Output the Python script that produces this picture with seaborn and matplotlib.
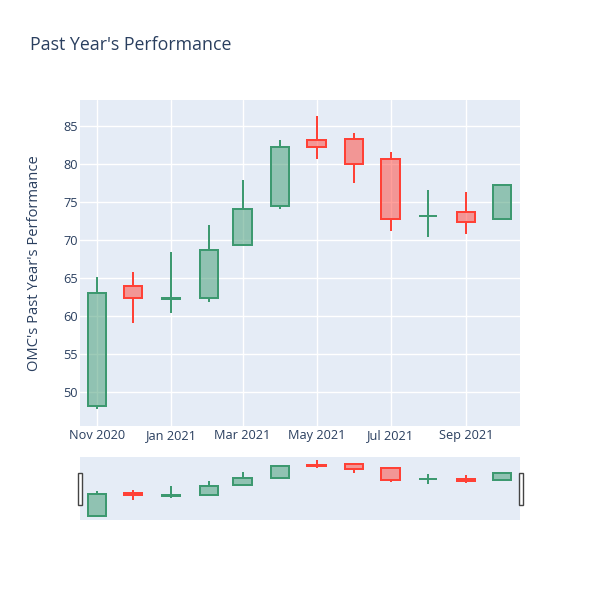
import matplotlib
matplotlib.use("Agg")
import matplotlib.pyplot as plt
from matplotlib.patches import Rectangle
import pandas as pd
import seaborn as sns

# monthly OHLC values
dates = ["2020-11-01", "2020-12-01", "2021-01-01", "2021-02-01", "2021-03-01", "2021-04-01",
         "2021-05-01", "2021-06-01", "2021-07-01", "2021-08-01", "2021-09-01", "2021-10-01"]
open_ = [48.1, 63.95, 62.25, 62.3, 69.3, 74.4, 83.1, 83.25, 80.6, 73.15, 73.6, 72.7]
high = [65.1, 65.75, 68.4, 71.9, 77.85, 83.1, 86.3, 84.0, 81.5, 76.5, 76.35, 77.3]
low = [47.7, 59.1, 60.4, 61.8, 69.25, 74.0, 80.7, 77.5, 71.2, 70.35, 70.8, 72.55]
close = [63.0, 62.3, 62.3, 68.7, 74.1, 82.15, 82.15, 80.0, 72.8, 73.2, 72.4, 77.15]

tick_dates = ["2020-11-01", "2021-01-01", "2021-03-01", "2021-05-01", "2021-07-01", "2021-09-01"]
tick_labels = ["Nov 2020", "Jan 2021", "Mar 2021", "May 2021", "Jul 2021", "Sep 2021"]

df = pd.DataFrame({"date": pd.to_datetime(dates), "open": open_, "high": high,
                   "low": low, "close": close})

sns.set_theme(style="darkgrid")
plt.rcParams["font.family"] = ["Open Sans", "DejaVu Sans"]

INC = "#3D9970"
DEC = "#FF4136"
TXT = "#2a3f5f"
BG = "#e5ecf6"


def draw_candles(ax, data):
    width = pd.Timedelta(days=15)
    for _, r in data.iterrows():
        col = INC if r["close"] >= r["open"] else DEC
        lo_b = min(r["open"], r["close"])
        hi_b = max(r["open"], r["close"])
        ax.vlines(r["date"], r["low"], lo_b, color=col, lw=1.44, zorder=3)
        ax.vlines(r["date"], hi_b, r["high"], color=col, lw=1.44, zorder=3)
        ax.bar(r["date"], hi_b - lo_b, bottom=lo_b, width=width,
               facecolor=matplotlib.colors.to_rgba(col, 0.5), edgecolor=col,
               linewidth=1.44, zorder=4)


fig = plt.figure(figsize=(6, 6), dpi=100)
fig.patch.set_facecolor("white")

xmin = pd.Timestamp("2020-10-18 00:00")
xmax = pd.Timestamp("2021-10-15 16:00")

ax = fig.add_axes([80 / 600, 1 - 426 / 600, 440 / 600, 326 / 600])
ax.set_facecolor(BG)
draw_candles(ax, df)
ax.set_xlim(xmin, xmax)
ax.set_ylim(45.5, 88.4)
ax.set_yticks([50, 55, 60, 65, 70, 75, 80, 85])
ax.set_xticks(pd.to_datetime(tick_dates))
ax.set_xticklabels(tick_labels)
ax.grid(True, color="white", linewidth=1)
ax.set_axisbelow(True)
for s in ax.spines.values():
    s.set_visible(False)
ax.tick_params(axis="both", length=0, labelsize=9.2, labelcolor=TXT)
ax.tick_params(axis="y", pad=1.5)
ax.tick_params(axis="x", pad=2.5)
ax.set_xlabel("")
ax.set_ylabel("")

# range slider
ax2 = fig.add_axes([80 / 600, 1 - 520 / 600, 440 / 600, 63 / 600])
ax2.set_facecolor(BG)
draw_candles(ax2, df)
ax2.set_xlim(xmin, xmax)
ax2.set_ylim(45.7, 88.3)
ax2.grid(False)
ax2.set_xticks([])
ax2.set_yticks([])
for s in ax2.spines.values():
    s.set_visible(False)

for hx in (77.5 / 600, 518.5 / 600):
    fig.patches.append(Rectangle((hx, 1 - 505 / 600), 4 / 600, 32 / 600,
                                 transform=fig.transFigure, facecolor="white",
                                 edgecolor="#444444", linewidth=1, zorder=10))

fig.text(30 / 600, 1 - 45 / 600, "Past Year's Performance", ha="left", va="center",
         fontsize=12.8, color=TXT)
fig.text(35 / 600, 1 - 263 / 600, "OMC's Past Year's Performance", ha="center",
         va="center", rotation=90, fontsize=10.6, color=TXT)

fig.savefig("out.png", dpi=100)
